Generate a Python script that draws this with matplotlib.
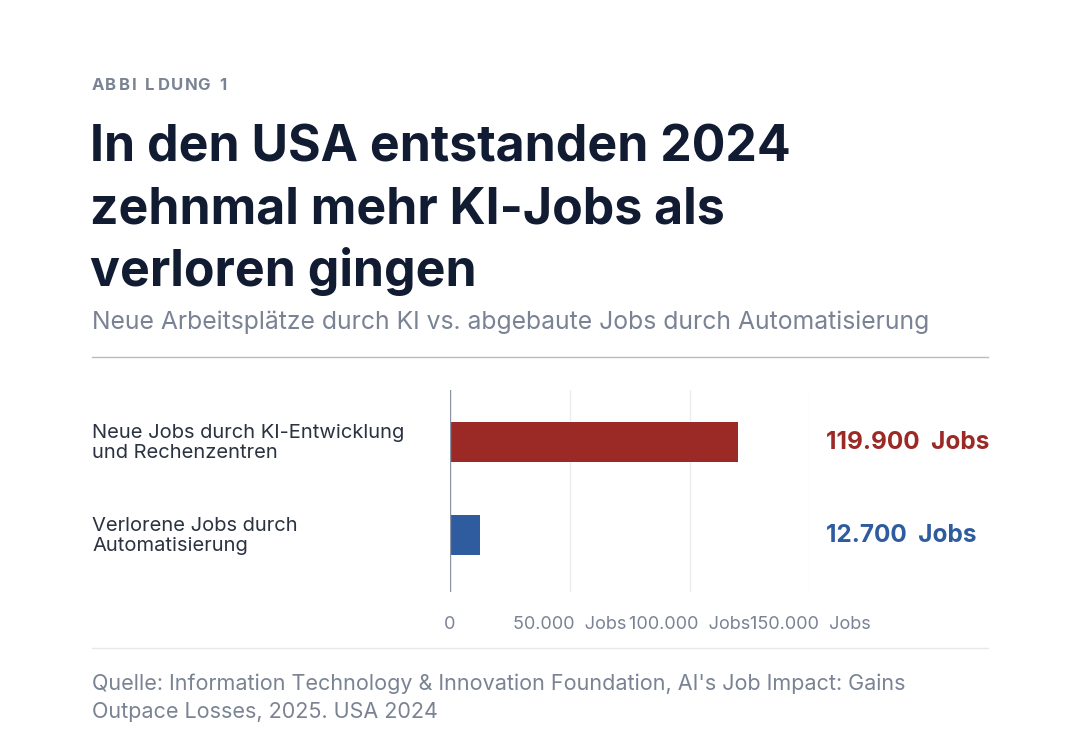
import matplotlib
matplotlib.use("Agg")
import matplotlib.pyplot as plt
from matplotlib.lines import Line2D

categories = ["Neue Jobs durch KI-Entwicklung\nund Rechenzentren", "Verlorene Jobs durch\nAutomatisierung"]
values = [119900, 12700]
value_labels = ["119.900  Jobs", "12.700  Jobs"]
colors = ["#9b2a26", "#2e5c9e"]
ticks = [0, 50000, 100000, 150000]
tick_labels = ["0", "50.000  Jobs", "100.000  Jobs", "150.000  Jobs"]

W, H = 1080, 752
fig = plt.figure(figsize=(W/100, H/100), dpi=100)
fig.patch.set_facecolor("white")
F = "Inter"
def fx(x): return x / W
def fy(y): return 1 - y / H

# letter-spaced label
x0 = 92
for ch in "ABBILDUNG 1":
    t = fig.text(fx(x0), fy(85), ch, family=F, fontsize=12, weight="bold", color="#7a8394", va="center")
    fig.canvas.draw() if False else None
    x0 += 13.2 if ch != " " else 8
for i, line in enumerate(["In den USA entstanden 2024", "zehnmal mehr KI-Jobs als", "verloren gingen"]):
    fig.text(fx(90), fy(148 + i*62), line, family=F, fontsize=36, weight="bold", color="#111c33", va="center")
fig.text(fx(92), fy(322), "Neue Arbeitsplätze durch KI vs. abgebaute Jobs durch Automatisierung",
         family=F, fontsize=17.8, color="#7a8394", va="center")
fig.add_artist(Line2D([fx(92), fx(988)], [fy(357), fy(357)], color="#b5bcc6", lw=1))
fig.add_artist(Line2D([fx(92), fx(988)], [fy(648), fy(648)], color="#e6e8ec", lw=1))
fig.text(fx(92), fy(684), "Quelle: Information Technology & Innovation Foundation, AI's Job Impact: Gains",
         family=F, fontsize=15.5, color="#7a8394", va="center")
fig.text(fx(92), fy(712), "Outpace Losses, 2025. USA 2024", family=F, fontsize=15.5, color="#7a8394", va="center")

ax = fig.add_axes([fx(450), fy(592), 360/W, (592-390)/H])
y = [0, 1]
ax.barh(y, values, height=40/93, color=colors, zorder=3)
ax.set_xlim(0, 150000)
ax.set_ylim(1 + 57/93, -52/93)
for s in ax.spines.values():
    s.set_visible(False)
ax.axvline(0, color="#8a94a6", lw=1, zorder=4)
for t in ticks[1:]:
    ax.axvline(t, color="#eceef1", lw=1, zorder=1)
ax.set_xticks(ticks)
ax.set_xticklabels(tick_labels, family=F, fontsize=13, color="#7a8394")
ax.tick_params(axis="x", length=0, pad=17)
ax.set_yticks([])
for yi, cat in zip(y, categories):
    fig.text(fx(92), fy(443 + yi*93), cat, family=F, fontsize=14.5, color="#2b3240", va="center", linespacing=1.15)
for yi, lab, c in zip(y, value_labels, colors):
    fig.text(fx(826), fy(443 + yi*93), lab, family=F, fontsize=17.5, weight="bold", color=c, va="center")

fig.savefig("out.png", dpi=100, facecolor="white")
